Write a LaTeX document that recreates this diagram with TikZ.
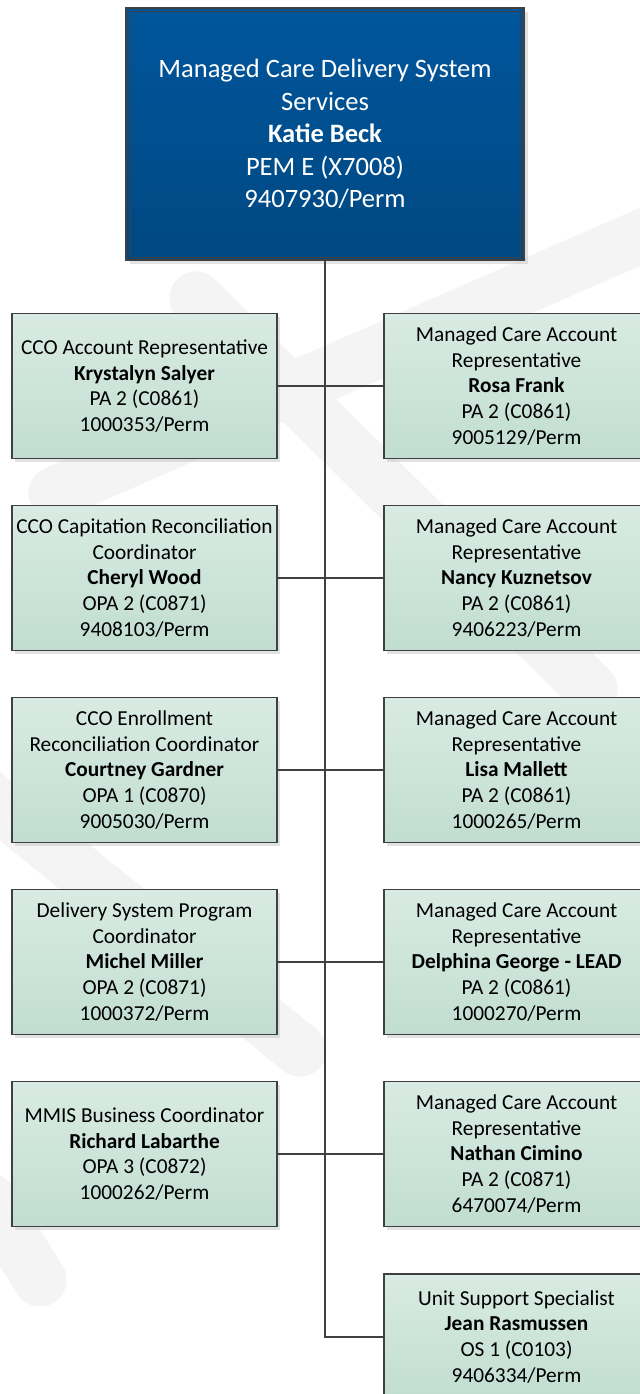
\documentclass[tikz,border=0pt]{standalone}
\usepackage{fontspec}
\setmainfont{Carlito}
\usetikzlibrary{positioning,shadows}

\definecolor{boxline}{HTML}{404040}
\definecolor{headtop}{HTML}{00569C}
\definecolor{headbot}{HTML}{004882}
\definecolor{postop}{HTML}{D9EBE3}
\definecolor{posbot}{HTML}{C1DDD1}
\definecolor{wmgray}{HTML}{F4F4F4}

\tikzstyle{posbox} = [rectangle, minimum width=198.75pt, minimum height=108.75pt, inner sep=0pt, align=center, draw=boxline, line width=1.4pt, top color=postop, bottom color=posbot, font=\fontsize{16}{19.2}\selectfont, drop shadow={shadow xshift=2.5pt, shadow yshift=-2.5pt, fill=black!25, opacity=0.45}]
\tikzstyle{head} = [rectangle, minimum width=298.5pt, minimum height=189pt, inner sep=0pt, align=center, draw=boxline, line width=1.6pt, top color=headtop, bottom color=headbot, text=white, font=\fontsize{19.9}{24.4}\selectfont, drop shadow={shadow xshift=3pt, shadow yshift=-3pt, fill=black!25, opacity=0.45}]
\tikzstyle{conn} = [draw=boxline, line width=1.5pt]
\tikzstyle{wmark} = [draw=wmgray, line width=40pt, line cap=round]

\begin{document}
\begin{tikzpicture}[x=0.75pt,y=-0.75pt,node distance=144pt]
\useasboundingbox (0,0) rectangle (639,1394);

% faint watermark behind the chart
\draw[wmark] (196,298) -- (591,689);
\draw[wmark] (660,228) -- (55,493);
\draw[wmark] (-20,790) -- (300,1050);
\draw[wmark] (-10,1200) -- (40,1280);

\node[head] (Top) at (325,134) {Managed Care Delivery System\\Services\\\textbf{Katie Beck}\\PEM E (X7008)\\9407930/Perm};
\draw[boxline, line width=0.8pt] ([xshift=4pt,yshift=-3.5pt]Top.north west) rectangle ([xshift=-3.5pt,yshift=3pt]Top.south east);

% left column
\node[posbox] (L1) at (144.5,386) {CCO Account Representative\\\textbf{Krystalyn Salyer}\\PA 2 (C0861)\\1000353/Perm};
\node[posbox] (L2) [below of=L1] {CCO Capitation Reconciliation\\Coordinator\\\textbf{Cheryl Wood}\\OPA 2 (C0871)\\9408103/Perm};
\node[posbox] (L3) [below of=L2] {CCO Enrollment\\Reconciliation Coordinator\\\textbf{Courtney Gardner}\\OPA 1 (C0870)\\9005030/Perm};
\node[posbox] (L4) [below of=L3] {Delivery System Program\\Coordinator\\\textbf{Michel Miller}\\OPA 2 (C0871)\\1000372/Perm};
\node[posbox] (L5) [below of=L4] {MMIS Business Coordinator\\\textbf{Richard Labarthe}\\OPA 3 (C0872)\\1000262/Perm};

% right column
\node[posbox] (R1) at (516.5,386) {Managed Care Account\\Representative\\\textbf{Rosa Frank}\\PA 2 (C0861)\\9005129/Perm};
\node[posbox] (R2) [below of=R1] {Managed Care Account\\Representative\\\textbf{Nancy Kuznetsov}\\PA 2 (C0861)\\9406223/Perm};
\node[posbox] (R3) [below of=R2] {Managed Care Account\\Representative\\\textbf{Lisa Mallett}\\PA 2 (C0861)\\1000265/Perm};
\node[posbox] (R4) [below of=R3] {Managed Care Account\\Representative\\\textbf{Delphina George - LEAD}\\PA 2 (C0861)\\1000270/Perm};
\node[posbox] (R5) [below of=R4] {Managed Care Account\\Representative\\\textbf{Nathan Cimino}\\PA 2 (C0871)\\6470074/Perm};
\node[posbox] (R6) [below of=R5, yshift=7pt, minimum height=93.75pt] {Unit Support Specialist\\\textbf{Jean Rasmussen}\\OS 1 (C0103)\\9406334/Perm};

\path[conn]
  (Top.south) |- (R6.west)
  (L1.east) -- (R1.west)
  (L2.east) -- (R2.west)
  (L3.east) -- (R3.west)
  (L4.east) -- (R4.west)
  (L5.east) -- (R5.west)
  ;

\end{tikzpicture}
\end{document}
